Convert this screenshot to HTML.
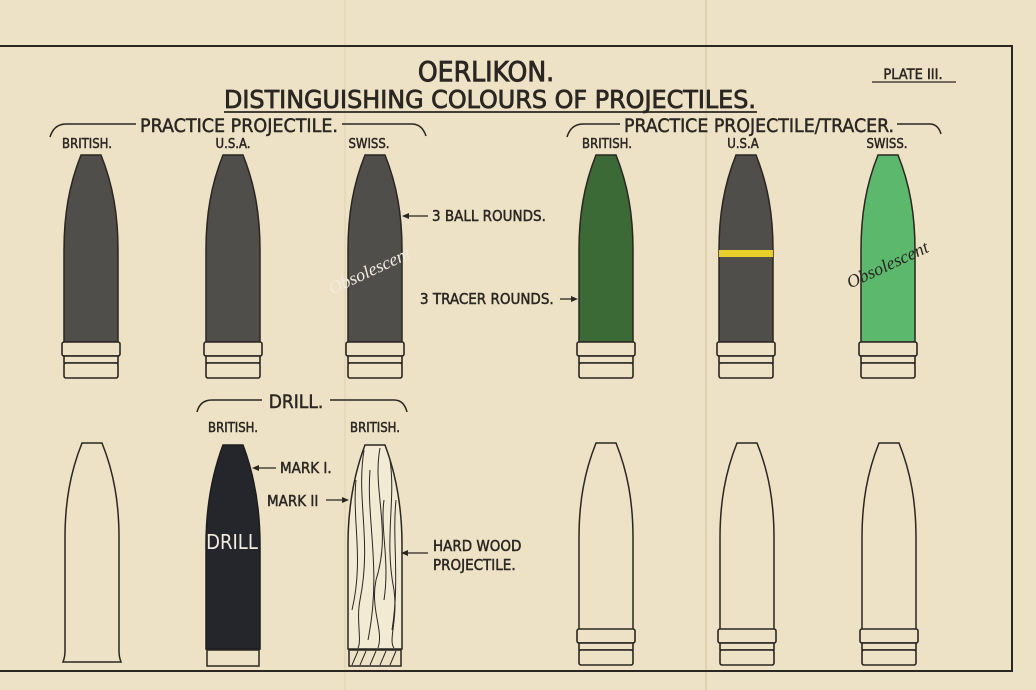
<!DOCTYPE html>
<html><head><meta charset="utf-8"><style>
html,body{margin:0;padding:0;background:#ede2c5;}
svg{display:block;}
text{font-family:"DejaVu Sans Condensed","DejaVu Sans","Liberation Sans",sans-serif;fill:#2a2622;stroke:#2a2622;stroke-width:0.45;}
</style></head><body>
<svg width="1036" height="690" viewBox="0 0 1036 690" xmlns="http://www.w3.org/2000/svg">
<defs>
<path id="p1" d="M-10,0 L10,0 C22,30 27,60 27,95 L27,187 L-27,187 L-27,95 C-27,60 -22,30 -10,0 Z"/>
<path id="p2" d="M-10,0 L10,0 C22,32 27,65 27,100 L27,204 L-27,204 L-27,100 C-27,65 -22,32 -10,0 Z"/>
<g id="base">
<rect x="-29" y="0" width="58" height="14" rx="2" fill="#ede2c5" stroke="#2a2622" stroke-width="1.6"/>
<rect x="-27" y="14" width="54" height="7" fill="#ede2c5" stroke="#2a2622" stroke-width="1.6"/>
<rect x="-27" y="21" width="54" height="15" rx="2" fill="#ede2c5" stroke="#2a2622" stroke-width="1.6"/>
</g>
</defs>
<rect width="1036" height="690" fill="#ede2c5"/>
<line x1="706" y1="0" x2="706" y2="690" stroke="#e0d3b3" stroke-width="2"/>
<line x1="345" y1="0" x2="345" y2="690" stroke="#e3d7b8" stroke-width="1.5"/>
<path d="M0,46 L1012,46 L1012,671 L0,671" fill="none" stroke="#2a2622" stroke-width="2"/>

<text x="486" y="81" font-size="28" text-anchor="middle" style="stroke-width:0.8">OERLIKON.</text>
<text x="224" y="108" font-size="24.5" textLength="532" lengthAdjust="spacingAndGlyphs" style="stroke-width:0.7">DISTINGUISHING COLOURS OF PROJECTILES.</text>
<line x1="224" y1="112" x2="757" y2="112" stroke="#2a2622" stroke-width="1.8"/>
<text x="913" y="79" font-size="14.5" text-anchor="middle">PLATE III.</text>
<line x1="872" y1="82" x2="956" y2="82" stroke="#2a2622" stroke-width="1.2"/>

<text x="140" y="132" font-size="19" textLength="198" lengthAdjust="spacingAndGlyphs">PRACTICE PROJECTILE.</text>
<path d="M50,137 Q54,124 66,124 L136,124 M342,124 L412,124 Q422,124 426,136" fill="none" stroke="#2a2622" stroke-width="1.5"/>
<text x="624" y="132" font-size="19" textLength="270" lengthAdjust="spacingAndGlyphs">PRACTICE PROJECTILE/TRACER.</text>
<path d="M567,137 Q571,124 583,124 L620,124 M897,124 L930,124 Q938,124 941,134" fill="none" stroke="#2a2622" stroke-width="1.5"/>

<text x="87" y="148" font-size="13" text-anchor="middle">BRITISH.</text>
<text x="233" y="148" font-size="13" text-anchor="middle">U.S.A.</text>
<text x="369" y="148" font-size="13" text-anchor="middle">SWISS.</text>
<text x="607" y="148" font-size="13" text-anchor="middle">BRITISH.</text>
<text x="743" y="148" font-size="13" text-anchor="middle">U.S.A</text>
<text x="887" y="148" font-size="13" text-anchor="middle">SWISS.</text>

<g transform="translate(91,155)"><use href="#p1" fill="#4f4e4b" stroke="#2a2622" stroke-width="1.5"/></g>
<g transform="translate(91,342)"><use href="#base"/></g>
<g transform="translate(233,155)"><use href="#p1" fill="#4f4e4b" stroke="#2a2622" stroke-width="1.5"/></g>
<g transform="translate(233,342)"><use href="#base"/></g>
<g transform="translate(375,155)"><use href="#p1" fill="#4f4e4b" stroke="#2a2622" stroke-width="1.5"/></g>
<g transform="translate(375,342)"><use href="#base"/></g>
<g transform="translate(606,155)"><use href="#p1" fill="#3b6a36" stroke="#2a2622" stroke-width="1.5"/></g>
<g transform="translate(606,342)"><use href="#base"/></g>
<g transform="translate(746,155)"><use href="#p1" fill="#4f4e4b" stroke="#2a2622" stroke-width="1.5"/></g>
<rect x="719" y="250" width="54" height="7" fill="#e8cf2a"/>
<g transform="translate(746,342)"><use href="#base"/></g>
<g transform="translate(888,155)"><use href="#p1" fill="#5cb86c" stroke="#2a2622" stroke-width="1.5"/></g>
<g transform="translate(888,342)"><use href="#base"/></g>

<text x="372" y="276" font-size="18" font-style="italic" text-anchor="middle" transform="rotate(-25 372 276)" style="fill:#f2ece0;stroke:none;font-family:'Liberation Serif',serif">Obsolescent</text>
<text x="890" y="270" font-size="18" font-style="italic" text-anchor="middle" transform="rotate(-25 890 270)" style="stroke:none;font-family:'Liberation Serif',serif">Obsolescent</text>

<line x1="403" y1="216" x2="428" y2="216" stroke="#2a2622" stroke-width="1.3"/>
<path d="M402,216 l7,-3 l0,6 z" fill="#2a2622"/>
<text x="432" y="221" font-size="15">3 BALL ROUNDS.</text>
<text x="420" y="304" font-size="15">3 TRACER ROUNDS.</text>
<line x1="560" y1="299" x2="576" y2="299" stroke="#2a2622" stroke-width="1.3"/>
<path d="M578,299 l-7,-3 l0,6 z" fill="#2a2622"/>

<text x="296" y="408" font-size="19" text-anchor="middle">DRILL.</text>
<path d="M197,412 Q200,400 212,400 L262,400 M330,400 L394,400 Q404,400 407,412" fill="none" stroke="#2a2622" stroke-width="1.5"/>
<text x="233" y="432" font-size="13" text-anchor="middle">BRITISH.</text>
<text x="375" y="432" font-size="13" text-anchor="middle">BRITISH.</text>

<g transform="translate(92,443)"><path d="M-10,0 L10,0 C22,30 27,60 27,95 L27,208 Q27,214 29,219 L-29,219 Q-27,214 -27,208 L-27,95 C-27,60 -22,30 -10,0 Z" fill="none" stroke="#2a2622" stroke-width="1.5"/></g>
<g transform="translate(606,443)"><use href="#p1" fill="none" stroke="#2a2622" stroke-width="1.5"/></g>
<g transform="translate(606,629)"><use href="#base"/></g>
<g transform="translate(747,443)"><use href="#p1" fill="none" stroke="#2a2622" stroke-width="1.5"/></g>
<g transform="translate(747,629)"><use href="#base"/></g>
<g transform="translate(889,443)"><use href="#p1" fill="none" stroke="#2a2622" stroke-width="1.5"/></g>
<g transform="translate(889,629)"><use href="#base"/></g>

<g transform="translate(233,445)"><use href="#p2" fill="#25262b" stroke="#1d1d20" stroke-width="1.5"/></g>
<rect x="207" y="650" width="52" height="16" fill="#ede2c5" stroke="#2a2622" stroke-width="1.5"/>
<text x="232" y="549" font-size="20" text-anchor="middle" style="fill:#f2ece0;stroke:none">DRILL</text>
<g transform="translate(375,445)"><use href="#p2" fill="#f3ead3" stroke="#2a2622" stroke-width="1.5"/></g>
<g fill="none" stroke="#2a2622" stroke-width="1">
<path d="M364,450 C356,500 372,540 360,600 C356,620 362,640 358,648"/>
<path d="M380,448 C372,490 392,530 376,580 C370,610 384,630 378,648"/>
<path d="M390,460 C396,500 384,540 394,590 C398,620 388,640 394,648"/>
<path d="M356,480 C352,520 364,560 352,610"/>
<path d="M370,470 C366,520 382,570 368,640"/>
<path d="M396,500 C392,540 400,580 392,630"/>
<path d="M384,500 C380,530 390,560 384,600"/>
</g>
<rect x="349" y="650" width="52" height="16" fill="#ede2c5" stroke="#2a2622" stroke-width="1.5"/>
<path d="M352,665 l6,-14 M360,665 l6,-14 M370,665 l6,-14 M380,665 l6,-14 M390,665 l6,-14" stroke="#2a2622" stroke-width="1"/>

<line x1="254" y1="468" x2="276" y2="468" stroke="#2a2622" stroke-width="1.3"/>
<path d="M252,468 l7,-3 l0,6 z" fill="#2a2622"/>
<text x="280" y="473" font-size="15">MARK I.</text>
<text x="267" y="506" font-size="15">MARK II</text>
<line x1="326" y1="500" x2="346" y2="500" stroke="#2a2622" stroke-width="1.3"/>
<path d="M349,500 l-7,-3 l0,6 z" fill="#2a2622"/>
<line x1="403" y1="553" x2="428" y2="553" stroke="#2a2622" stroke-width="1.3"/>
<path d="M401,553 l7,-3 l0,6 z" fill="#2a2622"/>
<text x="433" y="551" font-size="15">HARD WOOD</text>
<text x="433" y="570" font-size="15">PROJECTILE.</text>
</svg>
</body></html>
